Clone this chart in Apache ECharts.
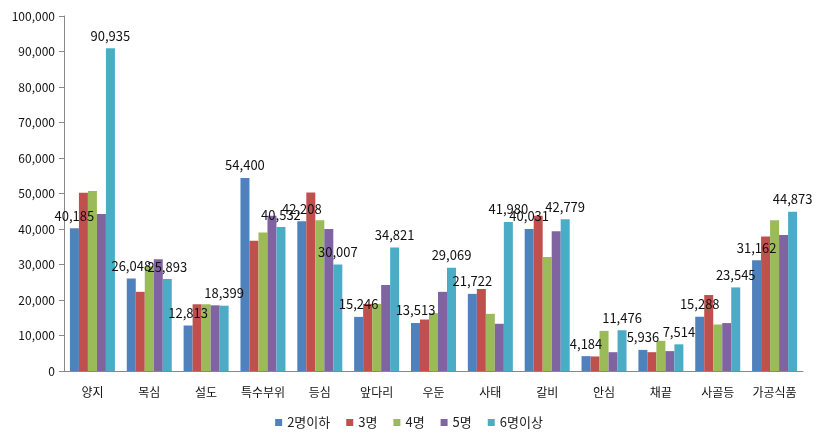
<!DOCTYPE html>
<html>
<head>
<meta charset="utf-8">
<script src="https://cdn.jsdelivr.net/npm/echarts@6/dist/echarts.min.js"></script>
<style>
  html, body { margin: 0; padding: 0; background: #fff; }
  #main { width: 818px; height: 443px; }
</style>
</head>
<body>
<div id="main"></div>
<script>
var categories = ['양지', '목심', '설도', '특수부위', '등심', '앞다리', '우둔', '사태', '갈비', '안심', '채끝', '사골등', '가공식품']
var seriesNames = ['2명이하', '3명', '4명', '5명', '6명이상']
var under2 = [40185, 26048, 12813, 54400, 42208, 15246, 13513, 21722, 40031, 4184, 5936, 15288, 31162]
var p3 = [50200, 22300, 18800, 36700, 50300, 18900, 14500, 23100, 43700, 4100, 5300, 21400, 37900]
var p4 = [50700, 29500, 18800, 39000, 42500, 18900, 16300, 16100, 32100, 11300, 8500, 13100, 42500]
var p5 = [44200, 31500, 18500, 43700, 40000, 24200, 22300, 13300, 39400, 5300, 5600, 13500, 38300]
var over6 = [90935, 25893, 18399, 40532, 30007, 34821, 29069, 41980, 42779, 11476, 7514, 23545, 44873]
var yTicks = [0, 10000, 20000, 30000, 40000, 50000, 60000, 70000, 80000, 90000, 100000]

var colors = ['#4F81BD', '#C0504D', '#9BBB59', '#8064A2', '#4BACC6']
var seriesData = [under2, p3, p4, p5, over6]
var font = 'Noto Sans CJK KR'

var chartDom = document.getElementById('main')
var myChart = echarts.init(chartDom)
var option

function fmt (v) {
  return v.toLocaleString('en-US')
}

option = {
  animation: false,
  color: colors,
  textStyle: { fontFamily: font },
  grid: {
    left: 64,
    right: 15,
    top: 16,
    bottom: 72
  },
  legend: {
    bottom: 9,
    left: 'center',
    itemWidth: 7,
    itemHeight: 7,
    itemGap: 16,
    icon: 'rect',
    textStyle: { fontSize: 13, color: '#222', fontFamily: font },
    data: seriesNames
  },
  xAxis: {
    type: 'category',
    data: categories,
    axisLine: { lineStyle: { color: '#888' } },
    axisTick: { length: 5, lineStyle: { color: '#888' } },
    axisLabel: { interval: 0, fontSize: 12, color: '#111', margin: 15, fontFamily: font }
  },
  yAxis: {
    type: 'value',
    min: yTicks[0],
    max: yTicks[yTicks.length - 1],
    interval: 10000,
    axisLine: { show: true, lineStyle: { color: '#888' } },
    axisTick: { show: true, length: 5, lineStyle: { color: '#888' } },
    splitLine: { show: false },
    axisLabel: {
      fontSize: 12,
      color: '#111',
      margin: 9,
      fontFamily: font,
      formatter: fmt
    }
  },
  series: seriesData.map(function (data, i) {
    var showLabel = i === 0 || i === 4
    return {
      name: seriesNames[i],
      type: 'bar',
      data: data,
      barWidth: 9,
      barGap: '0%',
      label: {
        show: showLabel,
        position: 'top',
        distance: 6,
        fontSize: 13,
        color: '#111',
        fontFamily: font,
        formatter: function (p) { return fmt(p.value) }
      }
    }
  })
}

option && myChart.setOption(option)

window.addEventListener('resize', () => {
  myChart.resize()
})
</script>
</body>
</html>
